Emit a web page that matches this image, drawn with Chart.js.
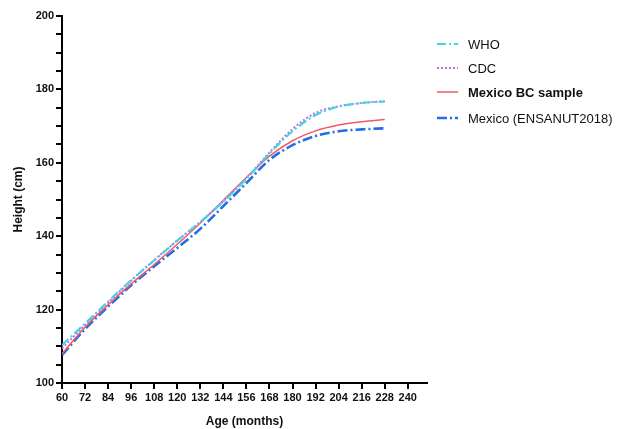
<!doctype html>
<html>
    <head>
        <title>Height by age</title>
        <script src="https://cdn.jsdelivr.net/npm/chart.js@4/dist/chart.umd.min.js"></script>
        <style>
            body { margin: 0; background: #fff; }
            #wrap { width: 627px; height: 429px; }
        </style>
    </head>
    <body>
        <div id="wrap"><canvas id="heightChart" width="627" height="429"></canvas></div>

        <script>
            // age in months
            var ages = [60, 72, 84, 96, 108, 120, 132, 144, 156, 168, 180, 192, 204, 216, 228];
            var ageTicks = [60, 72, 84, 96, 108, 120, 132, 144, 156, 168, 180, 192, 204, 216, 228, 240];

            // height in cm for each reference
            var who      = [110.3, 116.2, 122.2, 128.0, 133.4, 138.8, 143.9, 149.4, 155.6, 162.5, 168.6, 173.0, 175.3, 176.3, 176.7];
            var cdc      = [109.4, 115.8, 121.9, 127.9, 133.5, 138.8, 143.9, 149.5, 155.8, 162.8, 169.2, 173.6, 175.4, 176.3, 176.8];
            var mexicoBC = [108.0, 115.2, 121.3, 127.0, 132.3, 137.8, 143.6, 149.8, 156.0, 161.8, 166.0, 168.7, 170.3, 171.2, 171.8];
            var ensanut  = [107.6, 114.7, 120.8, 126.6, 131.8, 136.8, 142.0, 148.2, 154.5, 160.8, 164.8, 167.3, 168.6, 169.1, 169.4];

            var seriesNames = ['WHO', 'CDC', 'Mexico BC sample', 'Mexico (ENSANUT2018)'];

            function toPoints(values) {
                return ages.map(function (a, i) { return {x: a, y: values[i]}; });
            }

            var fontFamily = '"Liberation Sans", Arial, sans-serif';

            // legend drawn on the right, one row per dataset
            var sideLegend = {
                id: 'sideLegend',
                afterDraw: function (chart) {
                    var ctx = chart.ctx;
                    var rows = [44, 68, 92, 118];
                    chart.data.datasets.forEach(function (ds, i) {
                        var y = rows[i];
                        ctx.save();
                        ctx.strokeStyle = ds.borderColor;
                        ctx.lineWidth = ds.borderWidth;
                        ctx.setLineDash(ds.borderDash || []);
                        ctx.beginPath();
                        ctx.moveTo(437, y);
                        ctx.lineTo(458, y);
                        ctx.stroke();
                        ctx.setLineDash([]);
                        ctx.fillStyle = '#111';
                        ctx.font = (i === 2 ? 'bold ' : '') + '13px ' + fontFamily;
                        ctx.textBaseline = 'middle';
                        ctx.fillText(ds.label, 468, y + 1);
                        ctx.restore();
                    });
                }
            };

            var ctx = document.getElementById('heightChart').getContext('2d');
            var chart = new Chart(ctx, {
                type: 'line',
                data: {
                    datasets: [{
                        label: seriesNames[0],
                        data: toPoints(who),
                        borderColor: 'rgb(70, 212, 224)',
                        borderWidth: 2.2,
                        borderDash: [9, 3, 2, 3]
                    }, {
                        label: seriesNames[1],
                        data: toPoints(cdc),
                        borderColor: 'rgb(195, 110, 230)',
                        borderWidth: 2,
                        borderDash: [2, 2]
                    }, {
                        label: seriesNames[2],
                        data: toPoints(mexicoBC),
                        borderColor: 'rgb(240, 90, 95)',
                        borderWidth: 1.5
                    }, {
                        label: seriesNames[3],
                        data: toPoints(ensanut),
                        borderColor: 'rgb(35, 110, 230)',
                        borderWidth: 2.6,
                        borderDash: [10, 3, 2, 3]
                    }]
                },
                options: {
                    responsive: false,
                    animation: false,
                    events: [],
                    layout: { padding: { left: 0, top: 16, right: 200, bottom: 0 } },
                    elements: {
                        point: { radius: 0 },
                        line: { cubicInterpolationMode: 'monotone', fill: false }
                    },
                    plugins: {
                        legend: { display: false },
                        tooltip: { enabled: false }
                    },
                    scales: {
                        x: {
                            type: 'linear',
                            min: 60,
                            max: 250,
                            afterBuildTicks: function (s) {
                                s.ticks = ageTicks.map(function (v) { return {value: v}; });
                            },
                            afterFit: function (s) { s.height = 46; },
                            border: { color: '#000', width: 2 },
                            grid: { drawOnChartArea: false, color: '#000', lineWidth: 2, tickLength: 6 },
                            ticks: {
                                color: '#111',
                                padding: 2,
                                maxRotation: 0,
                                autoSkip: false,
                                font: { family: fontFamily, size: 11, weight: 'bold' }
                            },
                            title: {
                                display: true,
                                text: 'Age (months)',
                                color: '#111',
                                padding: { top: 4, bottom: 0 },
                                font: { family: fontFamily, size: 12, weight: 'bold' }
                            }
                        },
                        y: {
                            min: 100,
                            max: 200,
                            afterFit: function (s) { s.width = 62; },
                            border: { color: '#000', width: 2 },
                            grid: { drawOnChartArea: false, color: '#000', lineWidth: 2, tickLength: 6 },
                            ticks: {
                                stepSize: 5,
                                color: '#111',
                                padding: 2,
                                autoSkip: false,
                                font: { family: fontFamily, size: 11, weight: 'bold' },
                                callback: function (v) { return v % 20 === 0 ? v : ''; }
                            },
                            title: {
                                display: true,
                                text: 'Height (cm)',
                                color: '#111',
                                padding: { top: 11, bottom: 4 },
                                font: { family: fontFamily, size: 12, weight: 'bold' }
                            }
                        }
                    }
                },
                plugins: [sideLegend]
            });
        </script>
    </body>
</html>
